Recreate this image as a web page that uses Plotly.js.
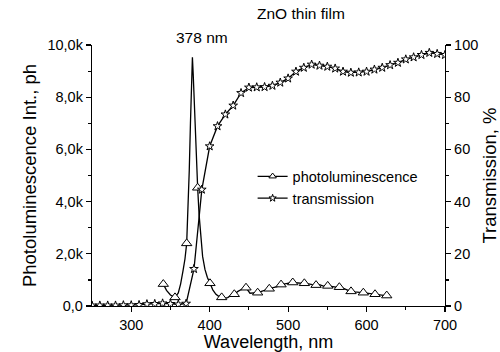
<!DOCTYPE html>
<html>
<head>
<meta charset="utf-8">
<script src="https://cdn.plot.ly/plotly-3.0.1.min.js"></script>
<style>html,body{margin:0;padding:0;background:#fff;}#chart{width:500px;height:352px;}</style>
</head>
<body>
<div id="chart"></div>
<script>
// Transmission (%), every 10 nm
var transX = [250,260,270,280,290,300,310,320,330,340,350,360,370,380,390,400,410,420,430,440,450,460,470,480,490,500,510,520,530,540,550,560,570,580,590,600,610,620,630,640,650,660,670,680,690,700];
var transY = [0.2,0.2,0.2,0.2,0.3,0.3,0.4,0.7,0.8,1.0,0.8,0.6,0.9,14.2,44.6,61.2,68.9,73.4,76.8,81.6,83.7,83.8,83.9,84.4,85.6,87.2,89.8,91.3,92.5,92.1,91.7,91.0,89.8,89.4,89.5,89.8,90.6,91.3,92.3,93.2,94.5,95.3,96.2,97.0,96.6,96.2];

// Photoluminescence line (counts)
var plX = [340.9,345,350,355.8,360,363,366,368.5,370.7,372.5,374,375.5,377,378,379,380.5,382,383.5,384.7,386.5,388.5,391,394,397,400.4,404,408,412,415.3,419,423,427,431.4,436,441,446.3,451.4,456,461.2,466,471,476,481,486,491,496,501,505.9,511,516,520.7,526,531,535.6,540,545,550.5,555,560,565.3,570,575,580.2,585,590,595.9,600,605,610.8,615,620,625.7,629];
var plY = [840,600,420,330,500,850,1350,1800,2400,3600,5200,7000,8800,9530,8900,7600,6300,5300,4530,3500,2600,1900,1400,1100,870,620,450,360,330,290,320,400,450,560,640,700,490,500,510,560,620,660,700,740,820,860,880,900,890,880,870,850,820,800,820,760,770,750,740,720,680,620,560,540,530,510,490,470,450,430,420,400,380];

// Photoluminescence markers (subset of the measured points)
var plMarkX = [340.9,355.8,370.7,384.7,400.4,415.3,431.4,446.3,461.2,476,491,505.9,520.7,535.6,550.5,565.3,580.2,595.9,610.8,625.7];
var plMarkY = [840,330,2400,4530,870,330,450,700,510,660,820,900,870,800,770,720,560,510,450,400];

var xTicks = [300,400,500,600,700];
var xMinor = [350,450,550,650];
var yTicks = [0,2000,4000,6000,8000,10000];
var yTickText = ["0,0","2,0k","4,0k","6,0k","8,0k","10,0k"];
var yMinor = [1000,3000,5000,7000,9000];

var FONT = "Liberation Sans, Arial, sans-serif";

var traces = [
  {x: plX, y: plY, mode: 'lines', line: {color: '#000', width: 1.3}, showlegend: false, hoverinfo: 'skip', yaxis: 'y'},
  {x: plMarkX, y: plMarkY, mode: 'markers', marker: {symbol: 'triangle-up', size: 9, color: '#fff', line: {color: '#000', width: 1}}, showlegend: false, yaxis: 'y'},
  {x: transX, y: transY, mode: 'lines+markers', line: {color: '#000', width: 1.3}, marker: {symbol: 'star', size: 6.5, color: '#fff', line: {color: '#000', width: 1}}, showlegend: false, yaxis: 'y2'},
  {x: [null], y: [null], name: 'photoluminescence', mode: 'lines+markers', line: {color: '#000', width: 1.3}, marker: {symbol: 'triangle-up', size: 6.5, color: '#fff', line: {color: '#000', width: 1}}, yaxis: 'y'},
  {x: [null], y: [null], name: 'transmission', mode: 'lines+markers', line: {color: '#000', width: 1.3}, marker: {symbol: 'star', size: 5.5, color: '#fff', line: {color: '#000', width: 1}}, yaxis: 'y2'}
];

var axisCommon = {
  showline: true, linecolor: '#000', linewidth: 1.2, ticks: 'outside', ticklen: 5, tickwidth: 1.2, tickcolor: '#000',
  showgrid: false, zeroline: false, tickfont: {family: FONT, size: 14.5, color: '#000'}
};

var layout = {
  width: 500, height: 352,
  margin: {l: 92, r: 55, t: 45, b: 46},
  paper_bgcolor: '#fff', plot_bgcolor: '#fff',
  font: {family: FONT, color: '#000'},
  xaxis: Object.assign({}, axisCommon, {
    range: [250, 700], tickmode: 'array', tickvals: xTicks,
    minor: {tickmode: 'array', tickvals: xMinor, ticks: 'outside', ticklen: 3, tickcolor: '#000', tickwidth: 1.2},
    title: {text: 'Wavelength, nm', font: {family: FONT, size: 18, color: '#000'}, standoff: 0}
  }),
  yaxis: Object.assign({}, axisCommon, {
    range: [0, 10000], tickmode: 'array', tickvals: yTicks, ticktext: yTickText,
    minor: {tickmode: 'array', tickvals: yMinor, ticks: 'outside', ticklen: 3, tickcolor: '#000', tickwidth: 1.2},
    title: {text: 'Photoluminescence Int., ph', font: {family: FONT, size: 18.5, color: '#000'}, standoff: 6}
  }),
  yaxis2: Object.assign({}, axisCommon, {
    overlaying: 'y', side: 'right', range: [0, 100], tickmode: 'linear', tick0: 0, dtick: 20,
    minor: {tickmode: 'linear', tick0: 10, dtick: 20, ticks: 'outside', ticklen: 3, tickcolor: '#000', tickwidth: 1.2},
    title: {text: 'Transmission, %', font: {family: FONT, size: 18.5, color: '#000'}, standoff: 6}
  }),
  legend: {x: 0.455, y: 0.558, xanchor: 'left', yanchor: 'top', bgcolor: 'rgba(0,0,0,0)', borderwidth: 0,
    font: {family: FONT, size: 14.5, color: '#000'}, itemwidth: 30, tracegroupgap: 0},
  annotations: [
    {text: '378 nm', xref: 'x', yref: 'paper', x: 390, y: 0.99, yanchor: 'bottom', showarrow: false, font: {family: FONT, size: 15.5, color: '#000'}},
    {text: 'ZnO thin film', xref: 'paper', yref: 'paper', x: 0.721, y: 1.08, yanchor: 'bottom', showarrow: false, font: {family: FONT, size: 15.5, color: '#000'}}
  ]
};

Plotly.newPlot('chart', traces, layout, {displayModeBar: false, staticPlot: true});
</script>
</body>
</html>
